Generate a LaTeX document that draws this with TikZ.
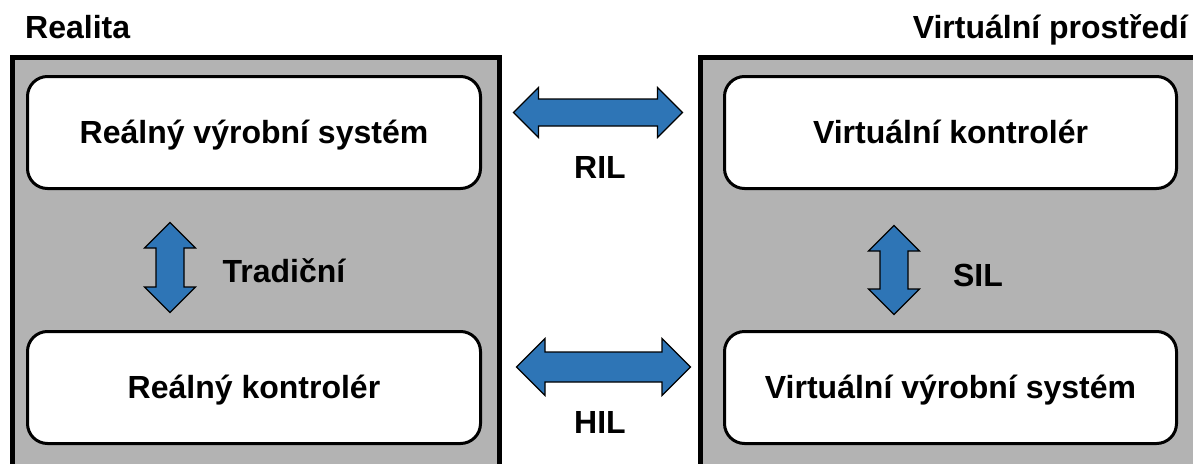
\documentclass[tikz,border=0pt]{standalone}
\usepackage{fontspec}
\setmainfont{Liberation Sans}
\definecolor{panelgray}{RGB}{179,179,179}
\definecolor{arrowblue}{RGB}{46,117,182}
\newcommand\dblarrow[6]{%
  % #1 name, #2 center, #3 rotation, #4 half length, #5 half head width, #6 half shaft width
  \coordinate (#1) at (#2);
  \begin{scope}[shift={(#1)}, rotate=#3]
    \draw[arrowshape] (-#4,0) -- ({-#4+#5},-#5) -- ({-#4+#5},-#6) -- ({#4-#5},-#6)
      -- ({#4-#5},-#5) -- (#4,0) -- ({#4-#5},#5) -- ({#4-#5},#6)
      -- ({-#4+#5},#6) -- ({-#4+#5},#5) -- cycle;
  \end{scope}}
\begin{document}
\begin{tikzpicture}[x=1pt,y=-1pt,
  every node/.style={font=\fontsize{32}{38}\selectfont\bfseries, inner sep=0pt},
  panelfill/.style={fill=panelgray},
  panelline/.style={draw=black, line width=5pt},
  sysbox/.style={draw=black, fill=white, line width=3pt, rounded corners=20pt,
    minimum width=453pt, minimum height=112pt, text height=21pt, text depth=0pt},
  arrowshape/.style={fill=arrowblue, draw=black, line width=1.2pt, line join=miter},
  lbl/.style={anchor=base}]
\useasboundingbox (0,0) rectangle (1193,463);
\fill[white] (0,0) rectangle (1193,463);
% panels
\fill[panelfill] (12.5,57.5) rectangle (499.5,480);
\draw[panelline] (12.5,480) -- (12.5,57.5) -- (499.5,57.5) -- (499.5,480);
\fill[panelfill] (700.5,57.5) rectangle (1210,480);
\draw[panelline] (700.5,480) -- (700.5,57.5) -- (1210,57.5);
% titles
\node[anchor=base west] (treal) at (25,38) {Realita};
\node[anchor=base east] (tvirt) at (1188,38) {Virtuální prostředí};
% boxes
\node[sysbox] (rvs) at (254,132.5) {Reálný výrobní systém};
\node[sysbox] (rk)  at (254,387.5) {Reálný kontrolér};
\node[sysbox, minimum width=452pt] (vk)  at (950.5,132.5) {Virtuální kontrolér};
\node[sysbox, minimum width=452pt] (vvs) at (950.5,387.5) {Virtuální výrobní systém};
% arrows
\dblarrow{atrad}{170,267.5}{90}{45}{25.5}{14}
\dblarrow{asil}{894,270}{90}{44.5}{25.5}{14}
\dblarrow{aril}{598,112.5}{0}{84.5}{25}{13.5}
\dblarrow{ahil}{603.5,367}{0}{87}{28.5}{15}
% labels
\node[lbl] (ltrad) at (284,282) {Tradiční};
\node[lbl] (lsil) at (978,286) {SIL};
\node[lbl] (lril) at (600,178) {RIL};
\node[lbl] (lhil) at (600,433) {HIL};
\end{tikzpicture}
\end{document}
